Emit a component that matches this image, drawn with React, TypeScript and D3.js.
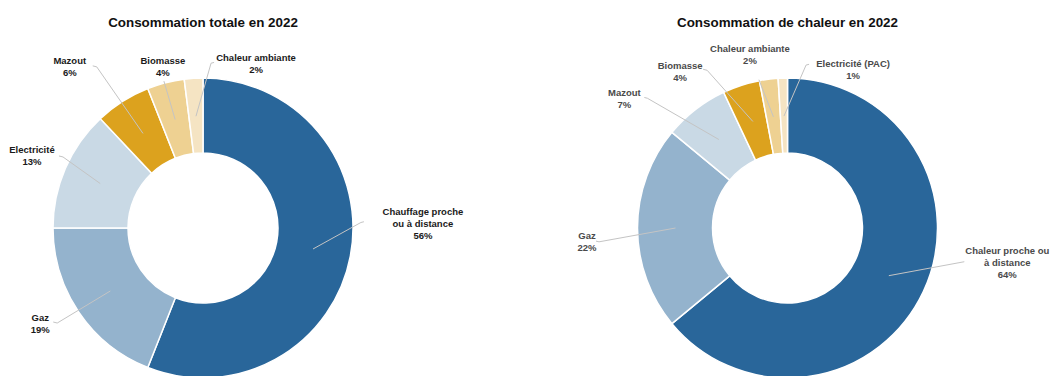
import React from "react";
import * as d3 from "d3";

// ---- data ----
const totalTitle = "Consommation totale en 2022";
const totalCategories = ["Chauffage proche ou à distance", "Gaz", "Electricité", "Mazout", "Biomasse", "Chaleur ambiante"];
const totalValues = [56, 19, 13, 6, 4, 2];
const totalLabelLines = [["Chauffage proche", "ou à distance"], ["Gaz"], ["Electricité"], ["Mazout"], ["Biomasse"], ["Chaleur ambiante"]];

const heatTitle = "Consommation de chaleur en 2022";
const heatCategories = ["Chaleur proche ou à distance", "Gaz", "Mazout", "Biomasse", "Chaleur ambiante", "Electricité (PAC)"];
const heatValues = [64, 22, 7, 4, 2, 1];
const heatLabelLines = [["Chaleur proche ou", "à distance"], ["Gaz"], ["Mazout"], ["Biomasse"], ["Chaleur ambiante"], ["Electricité (PAC)"]];

// ---- styles / layout ----
const sliceColors = ["#29669a", "#94b3cd", "#c9d9e5", "#dca21e", "#eed192", "#f5e4c3"];

type LabelLayout = { angle: number; r: number; tick: number; tx: number; ty: number };

const totalLayout: LabelLayout[] = [
  { angle: 88, r: 158, tick: 3, tx: 62, ty: -11 },
  { angle: 236.9, r: 174, tick: -4, tx: -17, ty: -6 },
  { angle: 296.9, r: 157, tick: -4, tx: -31, ty: -7 },
  { angle: 326.6, r: 193, tick: -4, tx: -27, ty: -6 },
  { angle: 345.1, r: 152, tick: 0, tx: -1, ty: -21 },
  { angle: 2.8, r: 165, tick: 3, tx: 45, ty: -6 },
];

const heatLayout: LabelLayout[] = [
  { angle: 100.8, r: 180, tick: 0, tx: 43, ty: -11 },
  { angle: 265.8, r: 189, tick: -3, tx: -12, ty: -6 },
  { angle: 312.8, r: 191, tick: -3, tx: -23, ty: -6 },
  { angle: 333, r: 177, tick: -4, tx: -27, ty: -5 },
  { angle: 349.1, r: 151, tick: 0, tx: -9, ty: -31 },
  { angle: 6.5, r: 164, tick: 3, tx: 47, ty: -2 },
];

const FONT = "'Liberation Sans', Arial, sans-serif";

function Donut({
  cx, cy, title, categories, values, labelLines, layout, textColor,
}: {
  cx: number; cy: number; title: string; categories: string[]; values: number[];
  labelLines: string[][]; layout: LabelLayout[]; textColor: string;
}) {
  const R = 150;
  const r = 75;
  const pie = d3.pie<number>().sort(null).value((d) => d);
  const arcs = pie(values);
  const arcGen = d3.arc<d3.PieArcDatum<number>>().innerRadius(r).outerRadius(R);
  const midArc = d3.arc<d3.PieArcDatum<number>>().innerRadius(112).outerRadius(112);
  const polar = (deg: number, rad: number) => {
    const a = (deg * Math.PI) / 180;
    return [rad * Math.sin(a), -rad * Math.cos(a)];
  };
  return (
    <g transform={`translate(${cx},${cy})`}>
      <text x={0} y={-201} textAnchor="middle" fontFamily={FONT} fontWeight={700} fontSize={13.4} fill="#111">
        {title}
      </text>
      {arcs.map((a, i) => (
        <path key={categories[i]} d={arcGen(a) || ""} fill={sliceColors[i]} stroke="#fff" strokeWidth={1.5} />
      ))}
      {arcs.map((a, i) => {
        const L = layout[i];
        const [ix, iy] = midArc.centroid(a);
        const [ex, ey] = polar(L.angle, L.r);
        const lines = [...labelLines[i], `${values[i]}%`];
        return (
          <g key={"lab" + i}>
            <polyline
              points={`${ix},${iy} ${ex},${ey} ${ex + L.tick},${ey - Math.abs(L.tick) * 0.25}`}
              fill="none"
              stroke="#c4c4c4"
              strokeWidth={1}
            />
            <text textAnchor="middle" fontFamily={FONT} fontWeight={700} fontSize={9.5} fill={textColor}>
              {lines.map((t, k) => (
                <tspan key={k} x={ex + L.tx} y={ey + L.ty + 3.5 + k * 12}>
                  {t}
                </tspan>
              ))}
            </text>
          </g>
        );
      })}
    </g>
  );
}

export default function App() {
  return (
    <svg width={1059} height={376} style={{ position: "absolute", left: 0, top: 0, background: "#fff" }}>
      <rect width={1059} height={376} fill="#fff" />
      <Donut cx={203} cy={228} title={totalTitle} categories={totalCategories} values={totalValues}
        labelLines={totalLabelLines} layout={totalLayout} textColor="#1a1a1a" />
      <Donut cx={787.5} cy={228} title={heatTitle} categories={heatCategories} values={heatValues}
        labelLines={heatLabelLines} layout={heatLayout} textColor="#4a4a4a" />
    </svg>
  );
}
